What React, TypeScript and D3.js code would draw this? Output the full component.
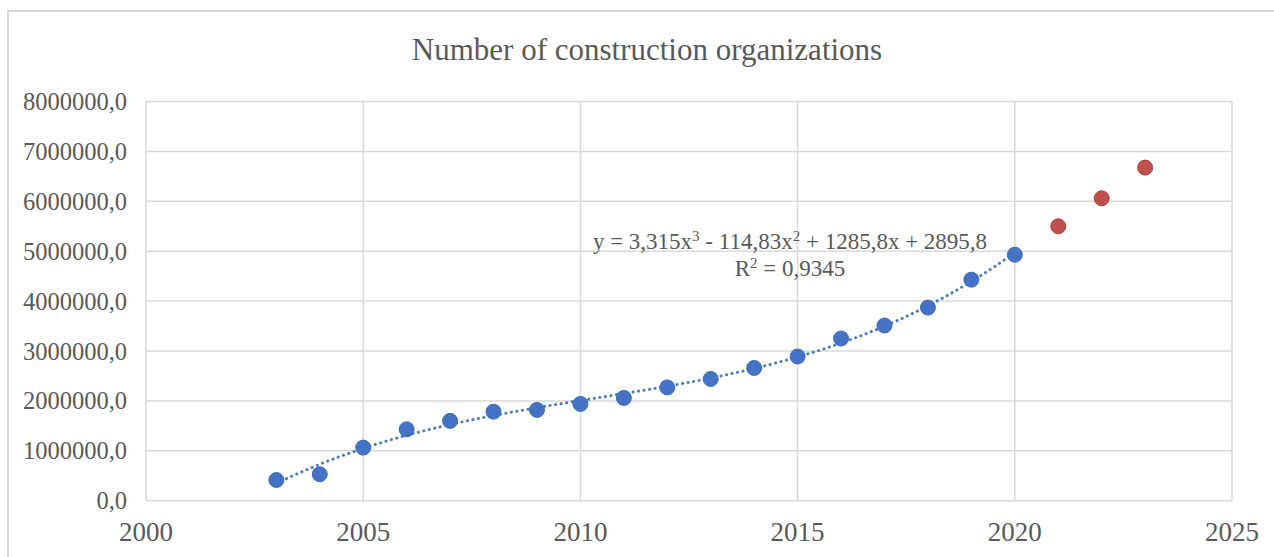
import React from "react";
import * as d3 from "d3";

const years = [2003, 2004, 2005, 2006, 2007, 2008, 2009, 2010, 2011, 2012, 2013, 2014, 2015, 2016, 2017, 2018, 2019, 2020];
const values = [415000, 530000, 1064000, 1430000, 1600000, 1785000, 1820000, 1940000, 2060000, 2270000, 2440000, 2660000, 2890000, 3250000, 3510000, 3870000, 4430000, 4930000];
const forecastYears = [2021, 2022, 2023];
const forecastValues = [5500000, 6060000, 6675000];
const xTicks = [2000, 2005, 2010, 2015, 2020, 2025];
const yTicks = [0, 1000000, 2000000, 3000000, 4000000, 5000000, 6000000, 7000000, 8000000];
const title = "Number of construction organizations";
const equation = ["y = 3,315x", "3", " - 114,83x", "2", " + 1285,8x + 2895,8"];
const rSquared = "0,9345";

function cubicFit(xs: number[], ys: number[]) {
  const n = 4;
  const A: number[][] = Array.from({ length: n }, () => Array(n + 1).fill(0));
  xs.forEach((x, k) => {
    for (let i = 0; i < n; i++) {
      for (let j = 0; j < n; j++) A[i][j] += Math.pow(x, i + j);
      A[i][n] += Math.pow(x, i) * ys[k];
    }
  });
  for (let c = 0; c < n; c++) {
    let p = c;
    for (let r = c + 1; r < n; r++) if (Math.abs(A[r][c]) > Math.abs(A[p][c])) p = r;
    [A[c], A[p]] = [A[p], A[c]];
    for (let r = 0; r < n; r++) {
      if (r === c) continue;
      const f = A[r][c] / A[c][c];
      for (let k = c; k <= n; k++) A[r][k] -= f * A[c][k];
    }
  }
  const coef = A.map((row, i) => row[n] / row[i]);
  return (x: number) => coef[0] + coef[1] * x + coef[2] * x * x + coef[3] * x * x * x;
}

export default function App() {
  const W = 1274, H = 557;
  const left = 146, right = 1232, top = 101.5, bottom = 500.7;
  const x = d3.scaleLinear().domain([2000, 2025]).range([left, right]);
  const y = d3.scaleLinear().domain([0, 8000000]).range([bottom, top]);
  const idx = years.map((_, i) => i + 1);
  const fit = cubicFit(idx, values);
  const trendPts = d3.range(1, years.length + 0.001, 0.1).map((t) => [years[0] + t - 1, fit(t)] as [number, number]);
  const line = d3.line<[number, number]>().x((d) => x(d[0])).y((d) => y(d[1])).curve(d3.curveLinear);
  const grid = "#d9d9d9";
  const txt = "#595959";
  const font = "'Liberation Serif', 'Times New Roman', serif";

  return (
    <svg width={W} height={H} style={{ position: "absolute", left: 0, top: 0, background: "#fff" }} fontFamily={font}>
      <rect x={8} y={11} width={W + 20} height={H + 20} fill="#fff" stroke={grid} strokeWidth={2} />
      <text x={647} y={60} textAnchor="middle" fontSize={31} fill={txt}>{title}</text>
      {yTicks.map((t) => (
        <g key={"y" + t}>
          <line x1={left} x2={right} y1={y(t)} y2={y(t)} stroke={grid} strokeWidth={1.5} />
          <text x={127} y={y(t)} dy="0.35em" textAnchor="end" fontSize={24.5} fill={txt}>
            {d3.format(".1f")(t).replace(".", ",")}
          </text>
        </g>
      ))}
      {xTicks.map((t) => (
        <g key={"x" + t}>
          <line x1={x(t)} x2={x(t)} y1={top} y2={bottom} stroke={grid} strokeWidth={1.5} />
          <text x={x(t)} y={541} textAnchor="middle" fontSize={27} fill={txt}>{t}</text>
        </g>
      ))}
      <path d={line(trendPts) || ""} fill="none" stroke="#4a7ebb" strokeWidth={3} strokeDasharray="0.1 5.5" strokeLinecap="round" />
      {years.map((yr, i) => (
        <circle key={"p" + yr} cx={x(yr)} cy={y(values[i])} r={7.5} fill="#4472c4" stroke="#3f6db3" strokeWidth={1} />
      ))}
      {forecastYears.map((yr, i) => (
        <circle key={"f" + yr} cx={x(yr)} cy={y(forecastValues[i])} r={7.5} fill="#c0504d" stroke="#b0423f" strokeWidth={1} />
      ))}
      <text x={790} y={249} textAnchor="middle" fontSize={23} fill={txt}>
        {equation[0]}
        <tspan dy={-8} fontSize={15}>{equation[1]}</tspan>
        <tspan dy={8}>{equation[2]}</tspan>
        <tspan dy={-8} fontSize={15}>{equation[3]}</tspan>
        <tspan dy={8}>{equation[4]}</tspan>
      </text>
      <text x={790} y={276} textAnchor="middle" fontSize={23} fill={txt}>
        R<tspan dy={-8} fontSize={15}>2</tspan><tspan dy={8}>{" = " + rSquared}</tspan>
      </text>
    </svg>
  );
}
